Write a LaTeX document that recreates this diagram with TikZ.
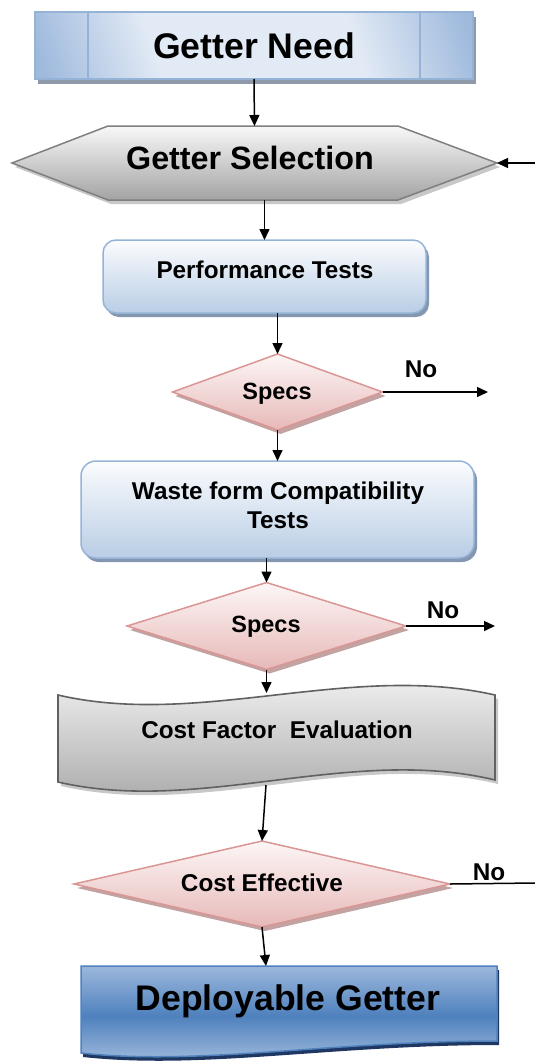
\documentclass[tikz,border=0pt]{standalone}
\usepackage{fontspec}
\setmainfont{Liberation Sans}
\usetikzlibrary{arrows.meta}
\definecolor{gnDark}{HTML}{9FBADD}
\definecolor{gnLight}{HTML}{E2EAF5}
\definecolor{gnBorder}{HTML}{95B3D7}
\definecolor{gnShadow}{HTML}{8E9AA9}
\definecolor{ptTop}{HTML}{FBFCFE}
\definecolor{ptBot}{HTML}{B9CDE5}
\definecolor{ptShadow}{HTML}{8597B0}
\definecolor{dmTop}{HTML}{FDF6F6}
\definecolor{dmBot}{HTML}{E6B9B8}
\definecolor{dmBorder}{HTML}{D99694}
\definecolor{dmShadow}{HTML}{C2A3A2}
\definecolor{hxTop}{HTML}{F8F8F8}
\definecolor{hxBot}{HTML}{A3A3A3}
\definecolor{hxBorder}{HTML}{7F7F7F}
\definecolor{hxShadow}{HTML}{C8C8C8}
\definecolor{dgTop}{HTML}{9CB8DC}
\definecolor{dgMid}{HTML}{4F81BD}
\definecolor{dgBorder}{HTML}{4F81BD}
\definecolor{dgShadow}{HTML}{1F3763}
\pgfdeclareverticalshading{gnshading}{100bp}{color(0bp)=(gnDark); color(20bp)=(gnDark); color(36bp)=(gnLight); color(64bp)=(gnLight); color(80bp)=(gnDark); color(100bp)=(gnDark)}
\tikzset{
  frame/.style={draw=none,fill=none,inner sep=0pt,outer sep=0pt},
  txt/.style={inner sep=0pt,font=\bfseries\fontsize{24.3}{29}\selectfont,align=center},
  spectxt/.style={inner sep=0pt,font=\bfseries\fontsize{23.5}{29}\selectfont},
  bigtxt/.style={inner sep=0pt,font=\bfseries\fontsize{35.6}{40}\selectfont},
  conn/.style={line width=1.5pt,-{Triangle[length=11pt,width=10pt]}},
  plain/.style={line width=1.5pt},
  gnshape/.style={draw=gnBorder,line width=1.5pt,shading=gnshading,shading angle=-72},
  ptshape/.style={draw=gnBorder,line width=1.5pt,top color=ptTop,bottom color=ptBot,rounded corners=13pt},
  dmshape/.style={draw=dmBorder,line width=1.5pt,top color=dmTop,bottom color=dmBot},
  hxshape/.style={draw=hxBorder,line width=1.5pt,top color=hxTop,bottom color=hxBot},
  tpshape/.style={draw=black!62,line width=1.6pt,top color=hxTop,bottom color=hxBot},
  dgshape/.style={draw=dgBorder,line width=1.5pt,top color=dgTop,bottom color=dgTop!90!white,middle color=dgMid},
  shad/.style={transform canvas={shift={(#1)}}},
}
\begin{document}
\begin{tikzpicture}[x=1pt,y=-1pt]
\useasboundingbox (0,0) rectangle (535,1061);

% ---------- Getter Need
\node[frame,minimum width=438pt,minimum height=67pt] (gn) at (254,45.5) {};
\fill[gnShadow,shad={3pt,-5pt}] (gn.north west) rectangle (gn.south east);
\path[gnshape] (gn.north west) rectangle (gn.south east);
\draw[gnBorder,line width=1.5pt] ([xshift=53pt]gn.north west) -- ([xshift=53pt]gn.south west);
\draw[gnBorder,line width=1.5pt] ([xshift=-53pt]gn.north east) -- ([xshift=-53pt]gn.south east);
\node[bigtxt] (gnT) at (gn.center) {Getter Need};

% ---------- Getter Selection
\node[frame,minimum width=485pt,minimum height=74pt] (gs) at (254.5,163) {};
\fill[hxShadow,shad={3pt,-4pt}] (gs.west) -- ([xshift=96pt]gs.north west) -- ([xshift=-99pt]gs.north east) -- (gs.east) -- ([xshift=-99pt]gs.south east) -- ([xshift=96pt]gs.south west) -- cycle;
\path[hxshape] (gs.west) -- ([xshift=96pt]gs.north west) -- ([xshift=-99pt]gs.north east) -- (gs.east) -- ([xshift=-99pt]gs.south east) -- ([xshift=96pt]gs.south west) -- cycle;
\node[inner sep=0pt,font=\bfseries\fontsize{32.3}{37}\selectfont] (gsT) at (250,158) {Getter Selection};
\coordinate (gsIn) at (535,163);

% ---------- Performance Tests
\node[frame,minimum width=323pt,minimum height=73pt] (pt) at (264.5,276.5) {};
\fill[ptShadow,rounded corners=13pt,shad={3pt,-4pt}] (pt.north west) rectangle (pt.south east);
\path[ptshape] (pt.north west) rectangle (pt.south east);
\node[txt] (ptT) at (265,270) {Performance Tests};

% ---------- Specs 1
\node[frame,minimum width=210pt,minimum height=76pt] (s1) at (277.5,392) {};
\fill[dmShadow,shad={3pt,-4pt}] (s1.north) -- (s1.east) -- (s1.south) -- (s1.west) -- cycle;
\path[dmshape] (s1.north) -- (s1.east) -- (s1.south) -- (s1.west) -- cycle;
\node[spectxt] (s1T) at (277,394) {Specs};
\coordinate (s1No) at (488,392);
\node[txt] (s1N) at (421,369) {No};

% ---------- Waste form Compatibility Tests
\node[frame,minimum width=393pt,minimum height=97pt] (wf) at (277.5,509.5) {};
\fill[ptShadow,rounded corners=15pt,shad={3pt,-4pt}] (wf.north west) rectangle (wf.south east);
\path[ptshape,rounded corners=15pt] (wf.north west) rectangle (wf.south east);
\node[txt] (wfT) at (278,505.5) {Waste form Compatibility\\Tests};

% ---------- Specs 2
\node[frame,minimum width=279pt,minimum height=87pt] (s2) at (266.5,626) {};
\fill[dmShadow,shad={3pt,-4pt}] (s2.north) -- (s2.east) -- (s2.south) -- (s2.west) -- cycle;
\path[dmshape] (s2.north) -- (s2.east) -- (s2.south) -- (s2.west) -- cycle;
\node[spectxt] (s2T) at (266,627) {Specs};
\coordinate (s2No) at (495,626);
\node[txt] (s2N) at (443,610) {No};

% ---------- Cost Factor Evaluation (tape)
\node[frame,minimum width=437pt,minimum height=92pt] (cf) at (276.5,739) {};
\fill[hxShadow,shad={3pt,-4pt}] (58,695) .. controls (200,728) and (350,662) .. (495,695) -- (495,780) .. controls (350,745) and (200,815) .. (58,782) -- cycle;
\path[tpshape] (58,695) .. controls (200,728) and (350,662) .. (495,695) -- (495,780) .. controls (350,745) and (200,815) .. (58,782) -- cycle;
\node[txt] (cfT) at (277,730) {Cost Factor\ \ Evaluation};

% ---------- Cost Effective
\node[frame,minimum width=376pt,minimum height=86pt] (ce) at (262,884) {};
\fill[dmShadow,shad={3pt,-4pt}] (ce.north) -- (ce.east) -- (ce.south) -- (ce.west) -- cycle;
\path[dmshape] (ce.north) -- (ce.east) -- (ce.south) -- (ce.west) -- cycle;
\node[txt] (ceT) at (262,883) {Cost Effective};
\coordinate (ceNo) at (535,883);
\node[txt] (ceN) at (489,872) {No};

% ---------- Deployable Getter (document)
\node[frame,minimum width=416pt,minimum height=80pt] (dg) at (289,1006) {};
\fill[dgShadow,shad={2pt,-4pt}] (81,966) -- (497,966) -- (497,1041) .. controls (330,1041) and (200,1066) .. (81,1053) -- cycle;
\path[dgshape] (81,966) -- (497,966) -- (497,1041) .. controls (330,1041) and (200,1066) .. (81,1053) -- cycle;
\node[bigtxt] (dgT) at (288,1001) {Deployable Getter};

% ---------- connectors
\draw[conn] (gn.south) -- (gs.north);
\draw[conn] (gsIn) -- (gs.east);
\draw[conn] (gs.south -| pt.north) -- (pt.north);
\draw[conn] (pt.south -| s1.north) -- (s1.north);
\draw[conn] (s1.east) -- (s1No);
\draw[conn] (s1.south) -- (s1.south |- wf.north);
\draw[conn] (wf.south -| s2.north) -- (s2.north);
\draw[conn] (s2.east) -- (s2No);
\draw[conn] (s2.south) -- (s2.south |- cf.north);
\draw[conn] ([xshift=-10.5pt]cf.south) -- (ce.north);
\draw[plain] (ce.east) -- (ceNo);
\draw[conn] (ce.south) -- ([xshift=-23pt]dg.north);
\end{tikzpicture}
\end{document}
